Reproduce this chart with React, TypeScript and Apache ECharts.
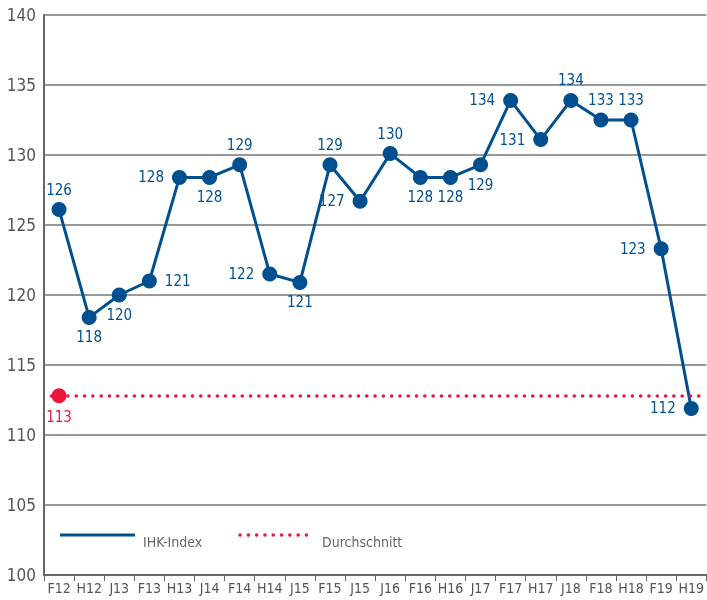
import React, { useEffect, useRef } from "react";
import * as echarts from "echarts";

const categories = ["F12", "H12", "J13", "F13", "H13", "J14", "F14", "H14", "J15", "F15", "J15", "J16", "F16", "H16", "J17", "F17", "H17", "J18", "F18", "H18", "F19", "H19"];
const ihkIndex = [126.1, 118.4, 120.0, 121.0, 128.4, 128.4, 129.3, 121.5, 120.9, 129.3, 126.7, 130.1, 128.4, 128.4, 129.3, 133.9, 131.1, 133.9, 132.5, 132.5, 123.3, 111.9];
const averageValue = 112.8;
const yRange = [100, 140];
const yStep = 5;
const seriesNames = ["IHK-Index", "Durchschnitt"];

// label placement (style only)
const labelPositions = ["top", "bottom", "bottom", "right", "left", "bottom", "top", "left", "bottom", "top", "left", "top", "bottom", "bottom", "bottom", "left", "left", "top", "top", "top", "left", "left"];

const BLUE = "#00508f";
const RED = "#e8173c";
const FONT = "'Liberation Sans Narrow', 'DejaVu Sans Condensed', 'Roboto Condensed', Roboto, sans-serif";

export default function App() {
  const ref = useRef<HTMLDivElement>(null);
  useEffect(() => {
    if (!ref.current) return;
    const chart = echarts.init(ref.current, null, { renderer: "svg" });
    chart.setOption({
      animation: false,
      grid: { left: 44, right: 0, top: 15, bottom: 25 },
      xAxis: {
        type: "category",
        data: categories,
        boundaryGap: true,
        axisLine: { show: true, lineStyle: { color: "#666", width: 2 } },
        axisTick: { show: true, length: 6, lineStyle: { color: "#666", width: 1 } },
        axisLabel: { color: "#555", fontSize: 14, fontFamily: FONT, margin: 6, interval: 0 },
        splitLine: { show: false },
      },
      yAxis: {
        type: "value",
        min: yRange[0],
        max: yRange[1],
        interval: yStep,
        axisLine: { show: true, lineStyle: { color: "#666", width: 2 } },
        axisTick: { show: false },
        axisLabel: { color: "#555", fontSize: 17, fontFamily: FONT, margin: 8 },
        splitLine: { show: true, lineStyle: { color: "#777", width: 1.5 } },
      },
      series: [
        {
          name: seriesNames[1],
          type: "line",
          z: 2,
          data: categories.map((_, i) =>
            i === 0
              ? { value: averageValue, symbol: "circle", symbolSize: 15, label: { show: true } }
              : { value: averageValue, symbol: "none" }
          ),
          showAllSymbol: true,
          itemStyle: { color: RED },
          lineStyle: { opacity: 0 },
          label: {
            show: false,
            position: "bottom",
            distance: 6,
            color: RED,
            fontSize: 15,
            fontFamily: FONT,
            formatter: (p: any) => String(Math.round(p.value)),
          },
          markLine: {
            silent: true,
            symbol: "none",
            label: { show: false },
            lineStyle: { color: RED, width: 3.5, type: [0.1, 8.2], dashOffset: 0.8, cap: "round" },
            data: [{ yAxis: averageValue }],
          },
        },
        {
          name: seriesNames[0],
          type: "line",
          z: 3,
          data: ihkIndex.map((v, i) => ({ value: v, label: { position: labelPositions[i], distance: labelPositions[i] === "left" || labelPositions[i] === "right" ? 8 : 5 } })),
          symbol: "circle",
          symbolSize: 15,
          showAllSymbol: true,
          itemStyle: { color: BLUE },
          lineStyle: { color: BLUE, width: 3 },
          label: {
            show: true,
            color: BLUE,
            fontSize: 15,
            fontFamily: FONT,
            formatter: (p: any) => String(Math.round(p.value)),
          },
        },
      ],
      graphic: [
        { type: "line", shape: { x1: 60, y1: 535, x2: 135, y2: 535 }, style: { stroke: BLUE, lineWidth: 3 } },
        { type: "text", x: 143, y: 542, style: { text: seriesNames[0], fill: "#666", fontSize: 14, fontFamily: FONT, verticalAlign: "middle" } },
        { type: "line", shape: { x1: 240, y1: 535, x2: 314, y2: 535 }, style: { stroke: RED, lineWidth: 3.5, lineDash: [0.1, 8.2], lineCap: "round" } },
        { type: "text", x: 322, y: 542, style: { text: seriesNames[1], fill: "#666", fontSize: 14, fontFamily: FONT, verticalAlign: "middle" } },
      ],
    });
    return () => chart.dispose();
  }, []);
  return <div ref={ref} style={{ position: "fixed", left: 0, top: 0, width: 707, height: 600 }} />;
}
